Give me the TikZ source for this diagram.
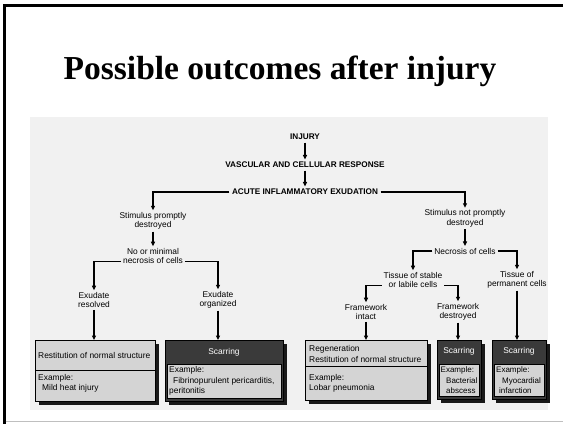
\documentclass[tikz,border=0pt]{standalone}
\usepackage{fontspec}
\setmainfont{Liberation Serif}
\setsansfont{Liberation Sans}
\usetikzlibrary{arrows.meta,shadows}
\definecolor{boxgray}{HTML}{D4D4D4}
\definecolor{darkhead}{HTML}{3A3A3A}
\definecolor{scanbg}{HTML}{F1F1F1}
\begin{document}
\begin{tikzpicture}[x=1pt,y=-1pt,
  lbl/.style={font=\fontsize{8.4}{9.5}\selectfont\sffamily, inner sep=1.8pt, align=center},
  capslbl/.style={font=\fontsize{8.2}{9.5}\selectfont\sffamily\bfseries, inner sep=2.5pt},
  arr/.style={line width=1.1pt, -{Triangle[length=4.5pt,width=4pt]}},
  cardshadow/.style={drop shadow={shadow xshift=3.5pt,shadow yshift=-3.5pt,fill=black!90,opacity=1}},
  boxlight/.style={fill=boxgray, draw=black, line width=0.7pt, inner sep=0pt, anchor=north west},
  boxdark/.style={fill=darkhead, draw=black, line width=0.7pt, inner sep=0pt, anchor=north west},
  txt/.style={font=\fontsize{8.4}{9.5}\selectfont\sffamily, inner sep=0pt, anchor=west},
  headtxt/.style={font=\fontsize{8.4}{9.5}\selectfont\sffamily, inner sep=0pt, text=white},
]
\useasboundingbox (0,0) rectangle (563,424);
\fill[white] (0,0) rectangle (563,424);
\fill[scanbg] (30,117) rectangle (548,410);
\fill[black] (2.5,3.5) rectangle (563,6.5);
\fill[black] (2.5,3.5) rectangle (5.5,424);
\draw[black!25, line width=1.5pt] (5.5,421.5) -- (563,421.5);

\node[font=\fontsize{33.5}{40}\selectfont\bfseries, anchor=base, inner sep=0pt] (title) at (280,79.5) {Possible outcomes after injury};

% flow text
\node[capslbl] (injury) at (305,137) {INJURY};
\node[capslbl] (vasc) at (305,165) {VASCULAR AND CELLULAR RESPONSE};
\node[capslbl] (acute) at (305,192) {ACUTE INFLAMMATORY EXUDATION};
\node[lbl] (spd) at (153,221) {Stimulus promptly\\destroyed};
\node[lbl] (snpd) at (465,218.5) {Stimulus not promptly\\destroyed};
\node[lbl] (nomin) at (153,256) {No or minimal\\necrosis of cells};
\node[lbl] (exres) at (94,300) {Exudate\\resolved};
\node[lbl] (exorg) at (218,300) {Exudate\\organized};
\node[lbl] (nec) at (465,251) {Necrosis of cells};
\node[lbl] (tsl) at (413,280) {Tissue of stable\\or labile cells};
\node[lbl] (tpc) at (517,280) {Tissue of\\permanent cells};
\node[lbl] (fwi) at (366,312) {Framework\\intact};
\node[lbl] (fwd) at (458,312) {Framework\\destroyed};

% box 1
\node[boxlight, cardshadow, minimum width=120pt, minimum height=61pt] (b1) at (35,340) {};
\draw[line width=1pt] (35,370) -- (155,370);
\node[txt] (b1a) at (38,355) {Restitution of normal structure};
\node[txt] (b1b) at (38,378) {Example:};
\node[txt] (b1c) at (42,388) {Mild heat injury};

% box 2
\node[boxdark, cardshadow, minimum width=118pt, minimum height=61pt] (b2) at (165,340) {};
\node[boxlight, minimum width=114pt, minimum height=34pt] (b2in) at (167,364) {};
\node[headtxt] (b2h) at (224,352) {Scarring};
\node[txt] (b2a) at (169,370) {Example:};
\node[txt] (b2b) at (173,381) {Fibrinopurulent pericarditis,};
\node[txt] (b2c) at (169,391) {peritonitis};

% box 3
\node[boxlight, cardshadow, minimum width=122pt, minimum height=60pt] (b3) at (305,340) {};
\draw[line width=1pt] (305,366) -- (427,366);
\node[txt] (b3a) at (309,349) {Regeneration};
\node[txt] (b3b) at (309,359) {Restitution of normal structure};
\node[txt] (b3c) at (309,378) {Example:};
\node[txt] (b3d) at (309,388) {Lobar pneumonia};

% box 4
\node[boxdark, cardshadow, minimum width=44pt, minimum height=59pt] (b4) at (437,340) {};
\node[boxlight, minimum width=40pt, minimum height=32pt] (b4in) at (439,364) {};
\node[headtxt] (b4h) at (459,351) {Scarring};
\node[txt, font=\fontsize{8}{9}\selectfont\sffamily] (b4a) at (440.5,370) {Example:};
\node[txt, font=\fontsize{8}{9}\selectfont\sffamily] (b4b) at (446,381) {Bacterial};
\node[txt, font=\fontsize{8}{9}\selectfont\sffamily] (b4c) at (446,391) {abscess};

% box 5
\node[boxdark, cardshadow, minimum width=54pt, minimum height=59pt] (b5) at (492,340) {};
\node[boxlight, minimum width=50pt, minimum height=32pt] (b5in) at (494,364) {};
\node[headtxt] (b5h) at (519,351) {Scarring};
\node[txt, font=\fontsize{8}{9}\selectfont\sffamily] (b5a) at (496,370) {Example:};
\node[txt, font=\fontsize{8}{9}\selectfont\sffamily] (b5b) at (502,381) {Myocardial};
\node[txt, font=\fontsize{8}{9}\selectfont\sffamily] (b5c) at (499,391) {infarction};

% connectors
\draw[arr] (injury) -- (vasc);
\draw[arr] (vasc) -- (acute);
\draw[arr] (acute.west) -| (spd.north);
\draw[arr] (acute.east) -| (snpd.north);
\draw[arr] (spd) -- (nomin);
\draw[arr] ([yshift=4.5pt]nomin.south west) -| (exres.north);
\draw[arr] ([yshift=4.5pt]nomin.south east) -| (exorg.north);
\draw[arr] (exres) -- (exres |- b1.north);
\draw[arr] (exorg) -- (exorg |- b2.north);
\draw[arr] (snpd) -- (nec);
\draw[arr] (nec.west) -| (tsl.north);
\draw[arr] (nec.east) -| (tpc.north);
\draw[arr] ([yshift=4.5pt]tsl.south west) -| (fwi.north);
\draw[arr] ([yshift=4.5pt]tsl.south east) -| (fwd.north);
\draw[arr] (fwi) -- (fwi |- b3.north);
\draw[arr] (fwd) -- (fwd |- b4.north);
\draw[arr] (tpc) -- (tpc |- b5.north);
\end{tikzpicture}
\end{document}
